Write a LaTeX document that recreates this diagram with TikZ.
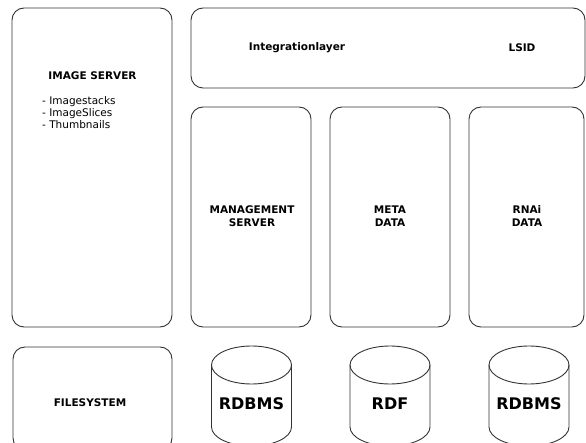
\documentclass[tikz,border=0pt]{standalone}
\usepackage{fontspec}
\setmainfont{DejaVu Sans}
\begin{document}
\begin{tikzpicture}[x=1pt,y=-1pt,
  outline/.style={draw=black!80,line width=0.9pt},
  panel/.style={outline,rounded corners=12pt,inner sep=0pt},
  caption/.style={font=\fontsize{10.5}{13}\selectfont\bfseries,align=center,inner sep=0pt},
  bullets/.style={font=\fontsize{10.5}{12.2}\selectfont,align=left,inner sep=0pt},
  dblabel/.style={font=\fontsize{16}{18}\selectfont\bfseries,inner sep=0pt}]
  \useasboundingbox (0,0) rectangle (586,443);
  \clip (0,0) rectangle (586,443);

  % rounded panels
  \node[panel,minimum width=160pt,minimum height=319pt] (imgsrv) at (92,167.5) {};
  \node[panel,minimum width=394pt,minimum height=80pt]  (integ)  at (388,48) {};
  \node[panel,minimum width=120pt,minimum height=220pt] (mgmt)   at (251,217) {};
  \node[panel,minimum width=120pt,minimum height=220pt] (meta)   at (390,217) {};
  \node[panel,minimum width=115pt,minimum height=220pt] (rnai)   at (526.5,217) {};
  \node[panel,minimum width=159pt,minimum height=103pt] (filesys) at (92.5,398.5) {};

  % panel texts
  \node[caption] (imgsrvtitle) at (92.5,75.5) {IMAGE SERVER};
  \node[bullets,anchor=north west] (imgsrvlist) at (42,96)
    {- Imagestacks\\- ImageSlices\\- Thumbnails};
  \node[caption] (integtext) at (297,48) {Integrationlayer};
  \node[caption] (lsid) at (522,48) {LSID};
  \node[caption] (mgmttext) at (252,216) {MANAGEMENT\\SERVER};
  \node[caption] (metatext) at (390,216) {META\\DATA};
  \node[caption] (rnaitext) at (527,216) {RNAi\\DATA};
  \node[caption] (fstext) at (90,403) {FILESYSTEM};

  % database drums
  \foreach \cx/\nm/\txt in {251.5/dbA/RDBMS, 390/dbB/RDF, 529/dbC/RDBMS}{
    \coordinate (\nm top) at (\cx,365);
    \coordinate (\nm bot) at (\cx,427);
    \draw[outline] (\nm top) ellipse [x radius=40pt,y radius=19pt];
    \draw[outline] ([xshift=-40pt]\nm top) -- ([xshift=-40pt]\nm bot)
      arc[start angle=180,end angle=360,x radius=40pt,y radius=19pt]
      -- ([xshift=40pt]\nm top);
    \node[dblabel] (\nm label) at (\cx,404) {\txt};
  }
\end{tikzpicture}
\end{document}
